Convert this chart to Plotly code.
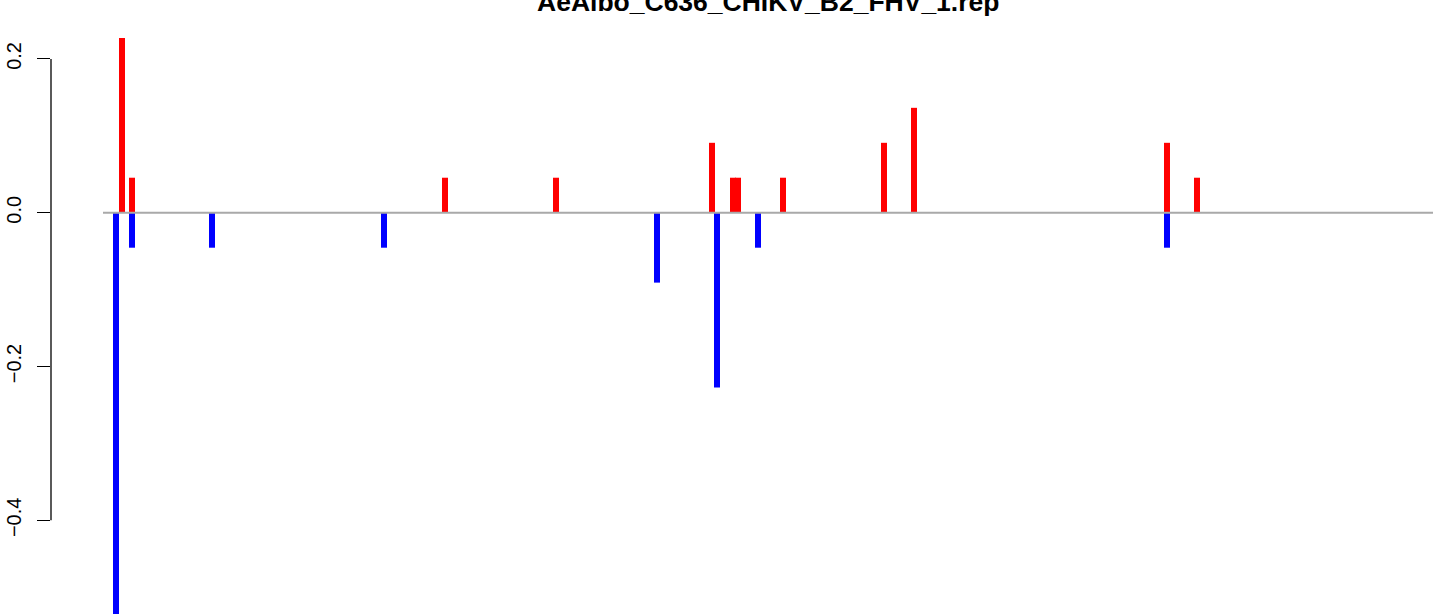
import plotly.graph_objects as go

# Positions along the sequence (arbitrary units) and the values
red_pos = [190, 290, 3420, 4530, 6090, 6300, 6350, 6800, 7810, 8110, 10640, 10940]
red_val = [0.2273, 0.0455, 0.0455, 0.0455, 0.0909, 0.0455, 0.0455, 0.0455, 0.0909, 0.1364, 0.0909, 0.0455]
blue_pos = [130, 290, 1090, 2810, 5540, 6140, 6550, 10640]
blue_val = [-0.5455, -0.0455, -0.0455, -0.0455, -0.0909, -0.2273, -0.0455, -0.0455]
seq_start, seq_end = 0, 13300
y_ticks = [-0.4, -0.2, 0.0, 0.2]
y_tick_text = ["\u22120.4", "\u22120.2", "0.0", "0.2"]
title_text = "AeAlbo_C636_CHIKV_B2_FHV_1.rep"

fig = go.Figure()
fig.add_trace(go.Scatter(x=[seq_start, seq_end], y=[0, 0], mode="lines",
                         line=dict(color="#A9A9A9", width=2), hoverinfo="skip"))
fig.add_trace(go.Bar(x=red_pos, y=red_val, width=60, marker=dict(color="#FF0000", line=dict(width=0))))
fig.add_trace(go.Bar(x=blue_pos, y=blue_val, width=60, marker=dict(color="#0000FF", line=dict(width=0))))

fig.add_shape(type="line", xref="paper", yref="y", x0=0, x1=0, y0=min(y_ticks), y1=max(y_ticks),
              line=dict(color="black", width=1.3))

fig.add_annotation(text="<b>" + title_text + "</b>", x=(seq_start + seq_end) / 2, xref="x",
                   y=1, yref="paper", yanchor="bottom", yshift=-19, showarrow=False,
                   font=dict(family="Liberation Sans", size=26.5, color="black"))

fig.update_layout(
    width=1444, height=614, barmode="overlay", showlegend=False,
    margin=dict(l=51, r=0, t=0, b=0),
    plot_bgcolor="white", paper_bgcolor="white",
    font=dict(family="Liberation Sans", size=20, color="black"),
    xaxis=dict(range=[-520, 13410], visible=False),
    yaxis=dict(range=[-0.5218, 0.2766], tickvals=y_ticks, ticktext=y_tick_text,
               ticks="outside", ticklen=13, tickwidth=1.3, tickcolor="black",
               tickangle=-90, showgrid=False, zeroline=False, showline=False,
               ticklabelstandoff=8,
               tickfont=dict(size=20, family="Liberation Sans")),
)
fig.write_html("out.html", config={"displayModeBar": False},
               post_script="document.body.style.margin='0';")
